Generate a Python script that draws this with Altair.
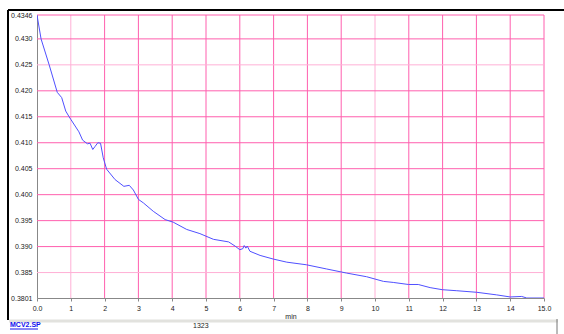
import altair as alt
import pandas as pd

# ---- data ----
t_min = [0.0, 0.12, 0.36, 0.6, 0.73, 0.85, 0.95, 1.0, 1.24, 1.35, 1.49, 1.57, 1.65, 1.72,
         1.80, 1.88, 1.96, 2.06, 2.31, 2.57, 2.73, 2.85, 3.0, 3.15, 3.44, 3.79, 4.03, 4.43,
         4.82, 5.22, 5.67, 5.86, 6.0, 6.09, 6.13, 6.18, 6.22, 6.3, 6.6, 6.99, 7.39, 7.97,
         8.56, 9.16, 9.75, 10.25, 10.54, 10.99, 11.28, 11.63, 11.99, 12.42, 13.01, 13.6,
         14.0, 14.34, 14.49, 15.0]
signal = [0.4346, 0.4300, 0.4250, 0.4197, 0.4187, 0.4161, 0.4150, 0.4145, 0.4121, 0.4105,
          0.4098, 0.4099, 0.4087, 0.4093, 0.4100, 0.4099, 0.4071, 0.4049, 0.4029, 0.4016,
          0.4018, 0.4009, 0.3991, 0.3984, 0.3968, 0.3952, 0.3947, 0.3933, 0.3925, 0.3914,
          0.3909, 0.3901, 0.3894, 0.3896, 0.3902, 0.3897, 0.3901, 0.3891, 0.3883, 0.3876,
          0.3870, 0.3865, 0.3857, 0.3849, 0.3842, 0.3833, 0.3831, 0.3827, 0.3827, 0.3821,
          0.3817, 0.3815, 0.3812, 0.3807, 0.3803, 0.3804, 0.3801, 0.3801]

x_ticks = list(range(0, 16))
y_ticks = [0.3801, 0.385, 0.390, 0.395, 0.400, 0.405, 0.410, 0.415, 0.420, 0.425, 0.430, 0.4346]
x_grid = list(range(1, 16))
y_grid = [0.385, 0.390, 0.395, 0.400, 0.405, 0.410, 0.415, 0.420, 0.425, 0.430, 0.4346]

x_title = "min"
file_label = "MCV2.SP"
count_label = "1323"

X_DOMAIN = [0, 15]
Y_DOMAIN = [0.3801, 0.4346]
FONT = "Liberation Sans"
PINK = "#ff5fae"
PINK_LIGHT = "#ffb0d6"
TEXT = "#222222"

df = pd.DataFrame({"t": t_min, "v": signal})
xg = pd.DataFrame({"t": x_grid})
yg = pd.DataFrame({"v": y_grid})
one = pd.DataFrame({"a": [0]})

xs = alt.Scale(domain=X_DOMAIN, nice=False, zero=False)
ys = alt.Scale(domain=Y_DOMAIN, nice=False, zero=False)

x_axis = alt.Axis(values=x_ticks, grid=False, domainColor="#888888", tickColor="#888888",
                  tickSize=3, labelPadding=3, labelFont=FONT, labelFontSize=7,
                  labelColor=TEXT, labelFlush=False, titleFont=FONT,
                  titleFontSize=7, titleFontWeight="normal", titleColor=TEXT,
                  titlePadding=1,
                  labelExpr="datum.value == 0 || datum.value == 15 ? format(datum.value, '.1f') : format(datum.value, 'd')")
y_axis = alt.Axis(values=y_ticks, grid=False, domainColor="#888888", ticks=False,
                  labelPadding=5, labelFont=FONT, labelFontSize=7,
                  labelColor=TEXT, labelFlush=False,
                  labelExpr="datum.value < 0.381 || datum.value > 0.434 ? format(datum.value, '.4f') : format(datum.value, '.3f')")

X = alt.X("t:Q", scale=xs, title=x_title, axis=x_axis)
Y = alt.Y("v:Q", scale=ys, title=None, axis=y_axis)

vgrid = alt.Chart(xg).mark_rule(strokeWidth=1).encode(
    x=X,
    color=alt.condition("datum.t == 1 || datum.t == 10", alt.value(PINK_LIGHT), alt.value(PINK)),
)
hgrid = alt.Chart(yg).mark_rule(strokeWidth=1).encode(
    y=Y,
    color=alt.condition("abs(datum.v - 0.425) < 1e-6 || abs(datum.v - 0.385) < 1e-6",
                        alt.value(PINK_LIGHT), alt.value(PINK)),
)

line = alt.Chart(df).mark_line(color="#5050ff", strokeWidth=1, clip=True).encode(x=X, y=Y)

# window frame decorations
top_bar = alt.Chart(one).mark_rule(color="black", strokeWidth=2).encode(
    x=alt.value(-29), x2=alt.value(527), y=alt.value(-5))
left_bar = alt.Chart(one).mark_rule(color="black", strokeWidth=2).encode(
    x=alt.value(-29), y=alt.value(-5), y2=alt.value(305))
status_band = alt.Chart(one).mark_rule(color="#e2e2de", strokeWidth=3).encode(
    x=alt.value(-28), x2=alt.value(521), y=alt.value(306))
status_sep = alt.Chart(one).mark_rule(color="#777777", strokeWidth=1).encode(
    x=alt.value(520), y=alt.value(304), y2=alt.value(319))
file_text = alt.Chart(one).mark_text(align="left", baseline="middle", font=FONT, fontSize=7,
                                     fontWeight="bold", color="#1010ee").encode(
    x=alt.value(-27), y=alt.value(310), text=alt.value(file_label))
file_underline = alt.Chart(one).mark_rule(color="#1010ee", strokeWidth=1).encode(
    x=alt.value(-27), x2=alt.value(1), y=alt.value(314))
count_text = alt.Chart(one).mark_text(align="left", baseline="middle", font=FONT, fontSize=7,
                                      color=TEXT).encode(
    x=alt.value(156), y=alt.value(311), text=alt.value(count_label))

chart = alt.layer(
    vgrid, hgrid, line, top_bar, left_bar, status_band, status_sep,
    file_text, file_underline, count_text
).properties(
    width=507, height=283,
    padding={"left": 37, "top": 15, "right": 20, "bottom": 36},
    autosize=alt.AutoSizeParams(type="none"),
    background="white",
).configure_view(stroke=None).configure_axis(labelColor=TEXT, titleColor=TEXT)

chart.save("out.html", embed_options={"renderer": "svg", "actions": False})
